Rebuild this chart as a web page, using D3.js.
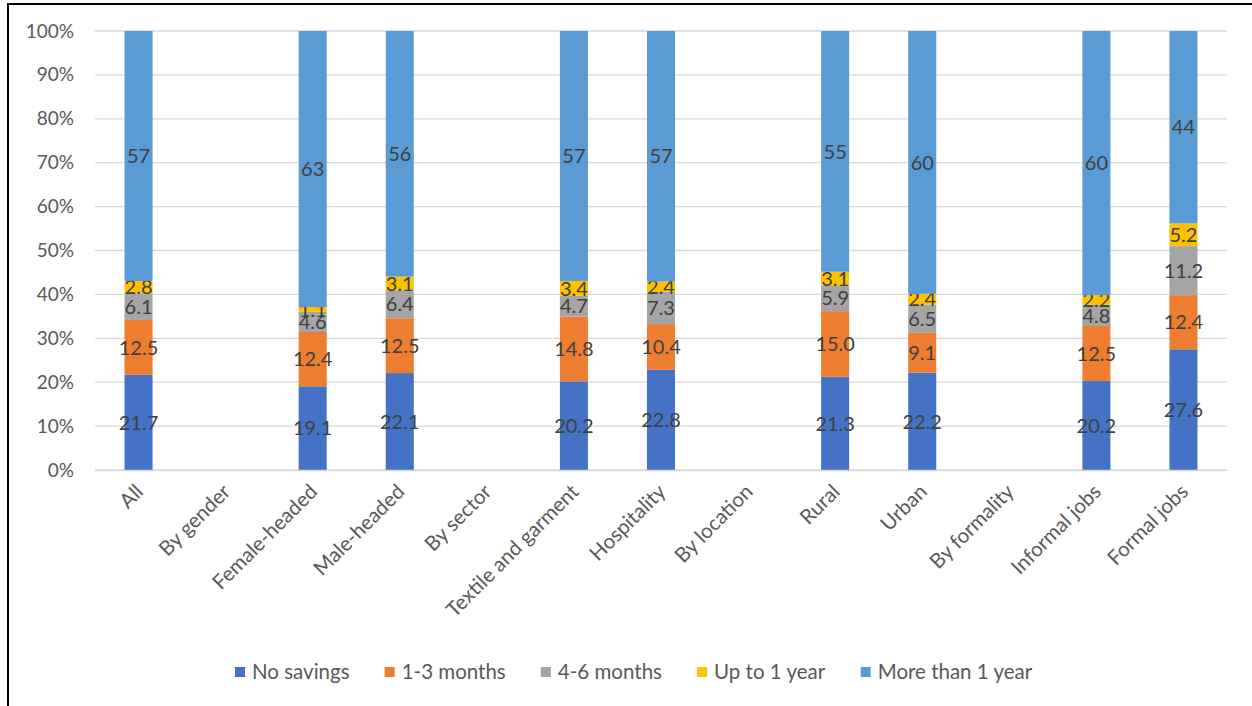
<!DOCTYPE html>
<html>
<head>
<meta charset="utf-8">
<script src="https://cdn.jsdelivr.net/npm/d3@7"></script>
<style>
  body { margin: 0; background: #fff; }
  text { font-family: Lato, "Open Sans", "Liberation Sans", sans-serif; }
</style>
</head>
<body>
<div id="chart"></div>
<script>
var categories = ["All", "By gender", "Female-headed", "Male-headed", "By sector",
  "Textile and garment", "Hospitality", "By location", "Rural", "Urban",
  "By formality", "Informal jobs", "Formal jobs"];
var seriesNames = ["No savings", "1-3 months", "4-6 months", "Up to 1 year", "More than 1 year"];
var colors = ["#4472C4", "#ED7D31", "#A5A5A5", "#FFC000", "#5B9BD5"];
// null = heading row without a bar
var noSavings = [21.7, null, 19.1, 22.1, null, 20.2, 22.8, null, 21.3, 22.2, null, 20.2, 27.6];
var oneToThree = [12.5, null, 12.4, 12.5, null, 14.8, 10.4, null, 15.0, 9.1, null, 12.5, 12.4];
var fourToSix = [6.1, null, 4.6, 6.4, null, 4.7, 7.3, null, 5.9, 6.5, null, 4.8, 11.2];
var upToYear = [2.8, null, 1.1, 3.1, null, 3.4, 2.4, null, 3.1, 2.4, null, 2.2, 5.2];
var moreThanYear = [57, null, 63, 56, null, 57, 57, null, 55, 60, null, 60, 44];
var yTicks = [0, 0.1, 0.2, 0.3, 0.4, 0.5, 0.6, 0.7, 0.8, 0.9, 1];

var w = 1252, h = 706;
var margin = { left: 95, right: 25, top: 31, bottom: 236 };

var svg = d3.select("#chart").append("svg").attr("width", w).attr("height", h);

// outer frame
svg.append("path")
  .attr("d", `M8,${h + 2}V4H${w + 2}`)
  .attr("fill", "none").attr("stroke", "#000").attr("stroke-width", 2);

var series = [noSavings, oneToThree, fourToSix, upToYear, moreThanYear];
var rows = categories.map((c, i) => {
  var r = { cat: c };
  seriesNames.forEach((s, j) => { r[s] = series[j][i] || 0; });
  r.empty = series[0][i] === null;
  return r;
});

var stacked = d3.stack().keys(seriesNames).offset(d3.stackOffsetExpand)(rows);

var x = d3.scaleBand().domain(categories)
  .range([margin.left, w - margin.right]).paddingInner(0.678).paddingOuter(0.339);
var y = d3.scaleLinear().domain([0, 1]).range([h - margin.bottom, margin.top]);

// gridlines
svg.append("g").selectAll("line").data(yTicks).enter().append("line")
  .attr("x1", margin.left).attr("x2", w - margin.right)
  .attr("y1", d => y(d)).attr("y2", d => y(d))
  .attr("stroke", "#d9d9d9").attr("stroke-width", 1.3);

var yAxis = svg.append("g").attr("transform", `translate(${margin.left},0)`)
  .call(d3.axisLeft(y).tickValues(yTicks).tickFormat(d3.format(".0%")).tickSize(0).tickPadding(21));
yAxis.select(".domain").remove();
yAxis.selectAll("text").attr("font-size", 19).attr("fill", "#595959");

// bars
var layers = svg.append("g").selectAll("g").data(stacked).enter().append("g")
  .attr("fill", (d, i) => colors[i]);
layers.selectAll("rect").data(d => d.filter(p => !p.data.empty)).enter().append("rect")
  .attr("x", d => x(d.data.cat))
  .attr("width", x.bandwidth())
  .attr("y", d => y(d[1]))
  .attr("height", d => y(d[0]) - y(d[1]));

// data labels
layers.selectAll("text").data((d, i) => d.filter(p => !p.data.empty).map(p => ({ p: p, key: d.key, i: i })))
  .enter().append("text")
  .attr("x", d => x(d.p.data.cat) + x.bandwidth() / 2)
  .attr("y", d => y((d.p[0] + d.p[1]) / 2))
  .attr("dy", "0.36em")
  .attr("text-anchor", "middle")
  .attr("font-size", 20)
  .attr("fill", "#404040")
  .text(d => d.i === 4 ? d3.format(".0f")(d.p.data[d.key]) : d3.format(".1f")(d.p.data[d.key]));

// x axis labels
var xAxis = svg.append("g").attr("transform", `translate(0,${y(0)})`)
  .call(d3.axisBottom(x).tickSize(0).tickPadding(0));
xAxis.select(".domain").attr("stroke", "#d9d9d9").attr("stroke-width", 1.3);
xAxis.selectAll("text")
  .attr("font-size", 20.5).attr("fill", "#595959")
  .attr("text-anchor", "end")
  .attr("dy", 0).attr("y", 0)
  .attr("transform", `translate(6,23)rotate(-45)`);

// legend
var legend = svg.append("g").attr("transform", "translate(0,672)");
var items = legend.selectAll("g").data(seriesNames).enter().append("g");
items.append("rect").attr("width", 10).attr("height", 10).attr("y", -5)
  .attr("fill", (d, i) => colors[i]);
items.append("text").attr("x", 17).attr("dy", "0.36em")
  .attr("font-size", 20.5).attr("fill", "#595959").text(d => d);
var pos = 235;
items.each(function () {
  d3.select(this).attr("transform", `translate(${pos},0)`);
  pos += this.getBBox().width + 35;
});
</script>
</body>
</html>
